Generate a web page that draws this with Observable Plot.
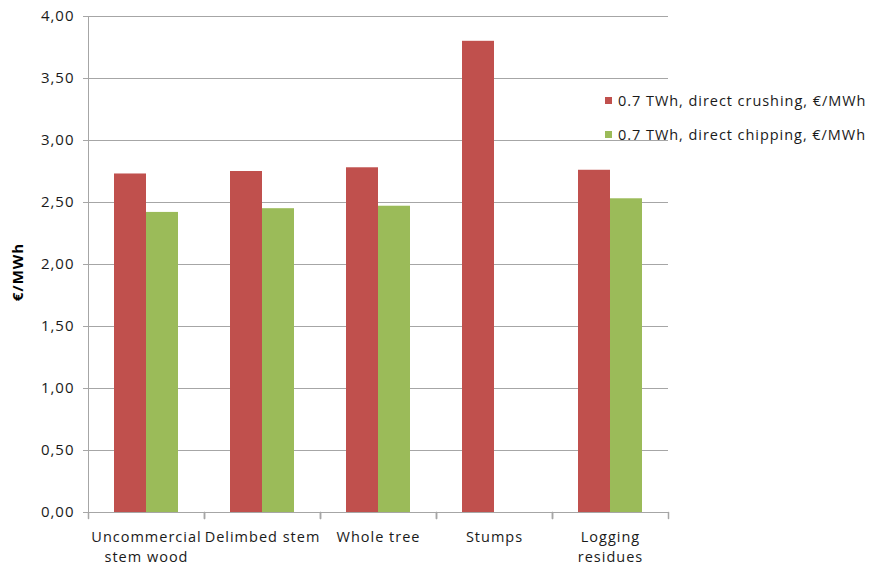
<!DOCTYPE html>
<html><head><meta charset="utf-8">
<script src="https://cdn.jsdelivr.net/npm/d3@7"></script>
<script src="https://cdn.jsdelivr.net/npm/@observablehq/plot@0.6"></script>
<style>
body{margin:0;background:#fff;font-family:"Open Sans",sans-serif}
#wrap{position:relative;width:878px;height:568px;overflow:hidden}
#wrap svg text{letter-spacing:1px}
#ylabel{position:absolute;left:17px;top:272px;transform:translate(-50%,-50%) rotate(-90deg);font-weight:bold;font-size:15px;letter-spacing:1px;color:#000;white-space:nowrap}
.leg{position:absolute;left:605px;font-size:14.5px;letter-spacing:0.95px;color:#1a1a1a;white-space:nowrap;display:flex;align-items:center}
.leg span.sw{display:inline-block;width:7px;height:7px;margin-right:6px}
</style></head><body><div id="wrap"></div>
<script>
const categories = ["Uncommercial stem wood", "Delimbed stem", "Whole tree", "Stumps", "Logging residues"];
const categoryLabels = ["Uncommercial\nstem wood", "Delimbed stem", "Whole tree", "Stumps", "Logging\nresidues"];
const seriesNames = ["0.7 TWh, direct crushing, €/MWh", "0.7 TWh, direct chipping, €/MWh"];
const crushing = [2.73, 2.75, 2.78, 3.80, 2.76];
const chipping = [2.42, 2.45, 2.47, null, 2.53];
const yTicks = [0, 0.5, 1, 1.5, 2, 2.5, 3, 3.5, 4];
const yLabel = "€/MWh";
const colors = ["#C0504D", "#9BBB59"];

const data = categories.flatMap((c, i) => [
  {category: c, series: seriesNames[0], value: crushing[i]},
  {category: c, series: seriesNames[1], value: chipping[i]}
]).filter(d => d.value != null);

const grey = "#a6a6a6";
const tickShape = {draw(context, l) { context.moveTo(0, 0); context.lineTo(0, -l); }};
const chart = Plot.plot({
  width: 878, height: 568,
  marginLeft: 88, marginRight: 210, marginTop: 16, marginBottom: 56,
  style: {fontFamily: "'Open Sans', sans-serif", fontSize: "14.5px", color: "#1a1a1a", background: "#fff", overflow: "visible"},
  fx: {domain: categories, padding: 0, label: null},
  x: {domain: seriesNames, paddingInner: 0, paddingOuter: 0.76},
  y: {domain: [0, 4]},
  color: {domain: seriesNames, range: colors},
  marks: [
    Plot.ruleY(yTicks, {stroke: grey, strokeWidth: 1}),
    Plot.barY(data, {fx: "category", x: "series", y: "value", fill: "series"}),
    Plot.frame({anchor: "left", facet: "super", stroke: grey}),
    Plot.vector([0], {frameAnchor: "bottom-left", length: 6, rotate: 180, anchor: "start", shape: tickShape, stroke: grey}),
    Plot.vector([0], {frameAnchor: "bottom-right", length: 6, rotate: 180, anchor: "start", shape: tickShape, stroke: grey}),
    Plot.axisY({ticks: yTicks, tickFormat: d => d.toFixed(2).replace(".", ","), tickSize: 5, tickPadding: 9, stroke: grey, label: null, fill: "#1a1a1a", fontSize: "15px"}),
    Plot.axisFx({anchor: "bottom", tickSize: 0, tickPadding: 15, lineHeight: 1.4, label: null, tickFormat: d => categoryLabels[categories.indexOf(d)], fill: "#1a1a1a"}),
    Plot.axisX({ticks: [], label: null})
  ]
});
const wrap = document.getElementById("wrap");
wrap.appendChild(chart);
const yl = document.createElement("div");
yl.id = "ylabel"; yl.textContent = yLabel; wrap.appendChild(yl);
seriesNames.forEach((s, i) => {
  const d = document.createElement("div");
  d.className = "leg";
  d.style.top = (91 + i * 34) + "px";
  d.innerHTML = `<span class="sw" style="background:${colors[i]}"></span>`;
  d.appendChild(document.createTextNode(s));
  wrap.appendChild(d);
});
</script></body></html>
